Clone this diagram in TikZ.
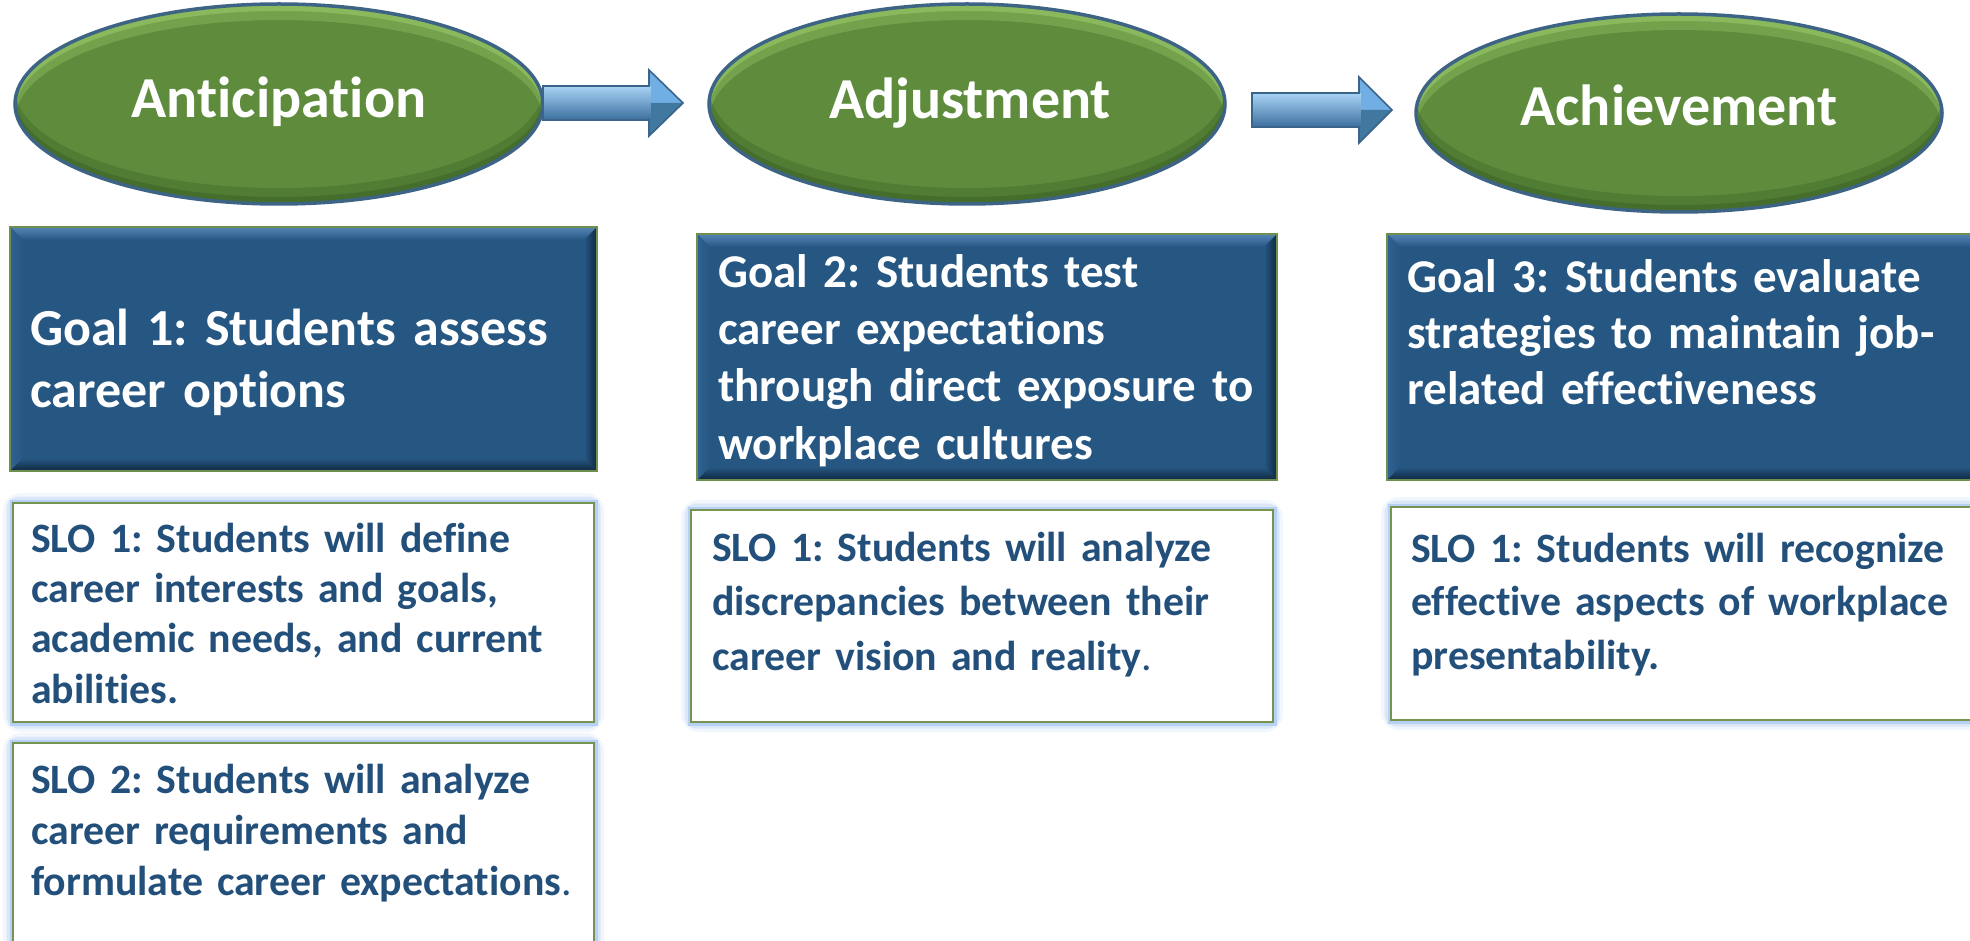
\documentclass[tikz,border=0pt]{standalone}
\usepackage{fontspec}
\setmainfont{Carlito}[Ligatures={NoCommon}]
\frenchspacing
\usetikzlibrary{shapes.geometric}
\definecolor{elgreen}{HTML}{5E8C3C}
\definecolor{elhi}{HTML}{9CCB6C}
\definecolor{eldark}{HTML}{3A5F26}
\definecolor{elrim}{HTML}{3D6385}
\definecolor{goalblue}{HTML}{265783}
\definecolor{goalhi}{HTML}{5585B5}
\definecolor{goaldk}{HTML}{102840}
\definecolor{goalrim}{HTML}{6E8F4E}
\definecolor{slotext}{HTML}{234F7B}
\definecolor{sloedge}{HTML}{76934F}
\definecolor{sloglow}{HTML}{95BDF0}
\definecolor{arrmid}{HTML}{5B9BD5}
\definecolor{arrhi}{HTML}{A9D3F5}
\definecolor{arrdk}{HTML}{3C6F9F}
\definecolor{arredge}{HTML}{3A6489}
\definecolor{headup}{HTML}{70AEE3}
\definecolor{headdn}{HTML}{41789F}
\newcommand\FL[1]{\rule{0pt}{#1pt}}
\newcommand\TI{t\kern0pt i}
% name, x0, y0, x1, y1
\newcommand\GoalBox[5]{%
  \node[rectangle, inner sep=0pt, outer sep=0pt, minimum width={#4-#2}, minimum height={#5-#3}, fill=goalblue] (#1) at ({(#2+#4)/2},{(#3+#5)/2}) {};
  \shade[top color=goalhi, bottom color=goalblue] (#2,#3) -- (#4,#3) -- (#4-13,#3+13) -- (#2+13,#3+13) -- cycle;
  \shade[left color=goalblue!75!goalhi, right color=goalblue] (#2,#3) -- (#2+13,#3+13) -- (#2+13,#5-13) -- (#2,#5) -- cycle;
  \shade[left color=goalblue, right color=goaldk] (#4,#3) -- (#4-13,#3+13) -- (#4-13,#5-13) -- (#4,#5) -- cycle;
  \shade[top color=goalblue, bottom color=goaldk] (#2,#5) -- (#2+13,#5-13) -- (#4-13,#5-13) -- (#4,#5) -- cycle;
  \draw[goalrim, line width=1.6pt] (#2,#3) rectangle (#4,#5);
}
\newcommand\SloBox[5]{%
  \draw[sloglow, line width=20pt, opacity=.12, rounded corners=8pt] (#2,#3) rectangle (#4,#5);
  \draw[sloglow, line width=13pt, opacity=.25, rounded corners=5pt] (#2,#3) rectangle (#4,#5);
  \draw[sloglow, line width=7pt, opacity=.5] (#2,#3) rectangle (#4,#5);
  \node[rectangle, inner sep=0pt, outer sep=0pt, minimum width={#4-#2}, minimum height={#5-#3}, fill=white, draw=sloedge, line width=1.3pt] (#1) at ({(#2+#4)/2},{(#3+#5)/2}) {};
}
% name, cx, cy, rx, ry
\newcommand\Stage[5]{%
  \node[ellipse, inner sep=0pt, minimum width={2*#4}, minimum height={2*#5}, fill=elgreen] (#1) at (#2,#3) {};
  \begin{scope}
    \clip (#2,#3) ellipse [x radius=#4pt, y radius=#5pt];
    \fill[elhi, opacity=.35, even odd rule] (#2,#3) ellipse [x radius=#4pt, y radius=#5pt] (#2,#3+16) ellipse [x radius=#4pt, y radius=#5pt];
    \fill[elhi, opacity=.55, even odd rule] (#2,#3) ellipse [x radius=#4pt, y radius=#5pt] (#2,#3+7) ellipse [x radius=#4pt, y radius=#5pt];
    \fill[eldark, opacity=.35, even odd rule] (#2,#3) ellipse [x radius=#4pt, y radius=#5pt] (#2,#3-16) ellipse [x radius=#4pt, y radius=#5pt];
    \fill[eldark, opacity=.5, even odd rule] (#2,#3) ellipse [x radius=#4pt, y radius=#5pt] (#2,#3-7) ellipse [x radius=#4pt, y radius=#5pt];
  \end{scope}
  \draw[elrim, line width=3.5pt] (#2,#3) ellipse [x radius=#4pt, y radius=#5pt];
}
% x0, xhead, xtip, yc, shaft half, head half
\newcommand\BlockArrow[6]{%
  \fill[arrmid] (#1,#4-#5) -- (#2,#4-#5) -- (#2,#4-#6) -- (#3,#4) -- (#2,#4+#6) -- (#2,#4+#5) -- (#1,#4+#5) -- cycle;
  \shade[top color=arrhi, middle color=arrmid, bottom color=arrdk] (#1,#4-#5) rectangle (#2+2,#4+#5);
  \fill[headup] (#2,#4-#6) -- (#3,#4) -- (#2+2,#4) -- (#2+2,#4-#5) -- (#2,#4-#5) -- cycle;
  \fill[headdn] (#2,#4+#6) -- (#3,#4) -- (#2+2,#4) -- (#2+2,#4+#5) -- (#2,#4+#5) -- cycle;
  \draw[arredge, line width=1.6pt, line join=miter] (#1,#4-#5) -- (#2,#4-#5) -- (#2,#4-#6) -- (#3,#4) -- (#2,#4+#6) -- (#2,#4+#5) -- (#1,#4+#5) -- cycle;
}
\tikzset{
  stagetext/.style={text=white, font=\fontsize{58}{70}\selectfont\bfseries, inner sep=0pt, anchor=base},
  goaltext/.style={text=white, inner sep=0pt, anchor=north west, align=left, text width=640pt},
  slotxt/.style={text=slotext, inner sep=0pt, anchor=north west, align=left, text width=640pt, font=\fontsize{41.8}{#1}\selectfont\bfseries},
}
\begin{document}
\begin{tikzpicture}[x=1pt,y=-1pt]
\useasboundingbox (0,0) rectangle (1970,941);
\clip (0,0) rectangle (1970,941);
\fill[white] (0,0) rectangle (1970,941);

% stages
\Stage{e1}{279}{104}{264}{100}
\Stage{e2}{967}{104}{258}{100}
\Stage{e3}{1679}{113}{263}{99}
\node[stagetext] (t1) at (279,118) {An\TI cipa\TI on};
\node[stagetext] (t2) at (970,119) {Adjustment};
\node[stagetext] (t3) at (1679,126) {Achievement};

% arrows
\BlockArrow{543}{649}{683}{103}{17}{33}
\BlockArrow{1252}{1359}{1392}{110}{17}{33}

% goals
\GoalBox{g1}{10}{227}{597}{471}
\GoalBox{g2}{697}{234}{1277}{480}
\GoalBox{g3}{1387}{234}{1990}{480}
\node[goaltext, font=\fontsize{52}{62}\selectfont\bfseries] (g1t) at (30,293) {\FL{52}Goal 1: Students assess\\career op\TI ons};
\node[goaltext, font=\fontsize{47}{57.3}\selectfont\bfseries] (g2t) at (718,240) {\FL{47}Goal 2: Students test\\career expecta\TI ons\\through direct exposure to\\workplace cultures};
\node[goaltext, font=\fontsize{47}{56}\selectfont\bfseries] (g3t) at (1407,245) {\FL{47}Goal 3: Students evaluate\\strategies to maintain job-\\related effec\TI veness};

% SLOs
\SloBox{s11}{13}{503}{594}{722}
\SloBox{s12}{13}{743}{594}{975}
\SloBox{s2}{691}{510}{1273}{722}
\SloBox{s3}{1391}{507}{1990}{720}
\node[slotxt=50.3] (s11t) at (31,510.2) {\FL{41.8}SLO 1: Students will define\\career interests and goals,\\academic needs, and current\\abili\TI es.};
\node[slotxt=51] (s12t) at (31,751.2) {\FL{41.8}SLO 2: Students will analyze\\career requirements and\\formulate career expecta\TI ons{\mdseries.}};
\node[slotxt=54.5] (s2t) at (712,519.2) {\FL{41.8}SLO 1: Students will analyze\\discrepancies between their\\career vision and reality{\mdseries.}};
\node[slotxt=53.5] (s3t) at (1411,520.2) {\FL{41.8}SLO 1: Students will recognize\\effec\TI ve aspects of workplace\\presentability.};
\end{tikzpicture}
\end{document}
